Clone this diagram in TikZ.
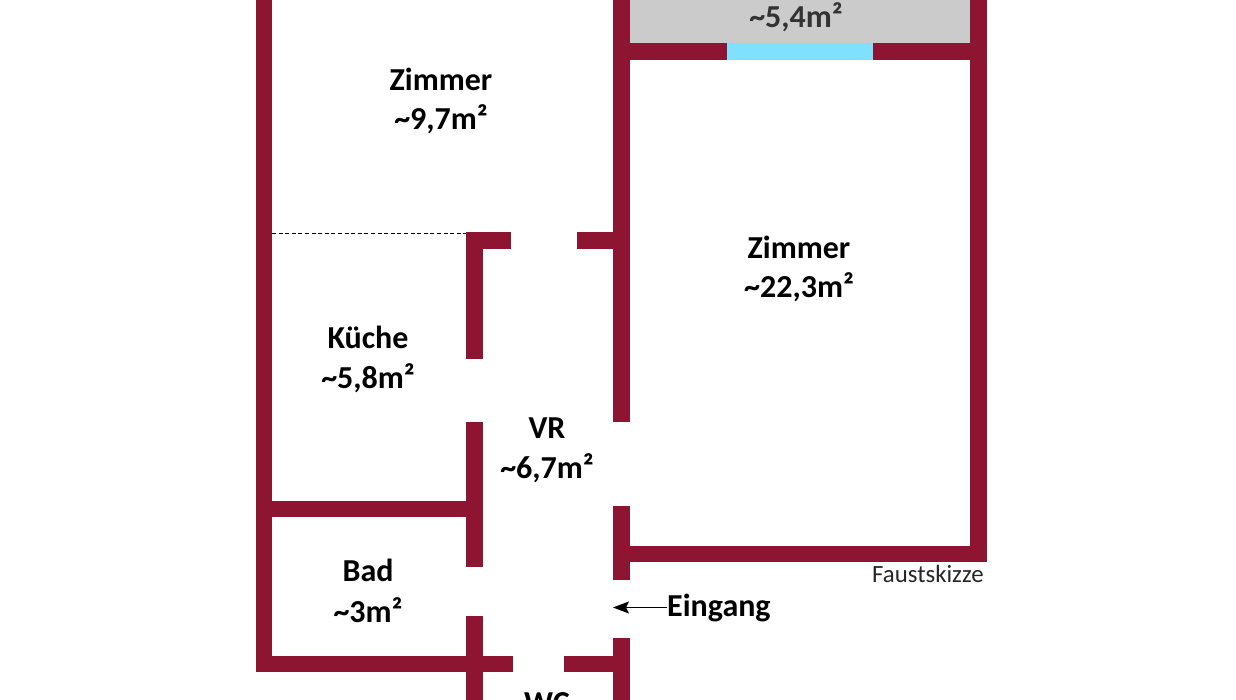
\documentclass[tikz,border=0pt]{standalone}
\usepackage{fontspec}
\setmainfont{Carlito}
\usetikzlibrary{arrows.meta}
\definecolor{wallred}{HTML}{8E1531}
\definecolor{balcony}{HTML}{CBCBCB}
\definecolor{glass}{HTML}{80E0FF}
\definecolor{darktext}{HTML}{333333}
\tikzset{
  x=1pt,y=-1pt,
  wall/.style={fill=wallred,draw=none},
  room/.style={font=\fontsize{32}{32}\selectfont\bfseries,inner sep=0pt,anchor=center,text=black},
  note/.style={font=\fontsize{24.8}{25}\selectfont,inner sep=0pt,text=black!85}
}
\newcommand{\wallrect}[4]{\fill[wall] (#1,#2) rectangle (#3,#4);}
\begin{document}
\begin{tikzpicture}
\useasboundingbox (0,0) rectangle (1236,700);
\begin{scope}
\clip (0,0) rectangle (1236,700);
\fill[white] (0,0) rectangle (1236,700);
% balcony
\fill[balcony] (630,0) rectangle (970,43);
\fill[glass] (727,43) rectangle (873,60);
% walls
\wallrect{256}{0}{272}{672}
\wallrect{272}{656}{513}{672}
\wallrect{466}{615.5}{483}{700}
\wallrect{466}{422}{483}{567}
\wallrect{272}{501}{466}{517}
\wallrect{466}{232}{483}{359}
\wallrect{483}{232}{511}{249}
\wallrect{577}{232}{613}{249}
\wallrect{613}{0}{630}{422}
\wallrect{613}{506}{630}{580}
\wallrect{630}{546}{970}{562}
\wallrect{970}{0}{987}{562}
\wallrect{613}{638}{630}{700}
\wallrect{564}{656}{613}{672}
\wallrect{630}{43}{727}{60}
\wallrect{873}{43}{970}{60}
% dashed partition
\coordinate (dashA) at (272,234);
\coordinate (dashB) at (466,234);
\draw[black,line width=1pt,dash pattern=on 4pt off 2.6pt] (dashA) -- (dashB);
% labels
\node[room] (zk1) at (441,79) {Zimmer};
\node[room] (za1) at (441,119.5) {\textasciitilde 9,7m²};
\node[room] (zk2) at (799,247) {Zimmer};
\node[room] (za2) at (799,287.5) {\textasciitilde 22,3m²};
\node[room] (ku) at (368,337) {Küche};
\node[room] (kua) at (368,378) {\textasciitilde 5,8m²};
\node[room] (vr) at (547,428.5) {VR};
\node[room] (vra) at (547,468.5) {\textasciitilde 6,7m²};
\node[room] (bad) at (368,570) {Bad};
\node[room] (bada) at (368,610) {\textasciitilde 3m²};
\node[room,text=darktext] (bal) at (796,17.5) {\textasciitilde 5,4m²};
\node[room] (wc) at (547,703.5) {WC};
\node[room,anchor=base west] (ein) at (667,616.5) {Eingang};
\node[note,anchor=west] (fau) at (872,574) {Faustskizze};
\coordinate (arrowEnd) at (613,607.5);
\draw[-{Stealth[length=16pt,width=12pt,inset=3pt]},line width=1.1pt,black] (ein.west |- arrowEnd) -- (arrowEnd);
\end{scope}
\end{tikzpicture}
\end{document}
